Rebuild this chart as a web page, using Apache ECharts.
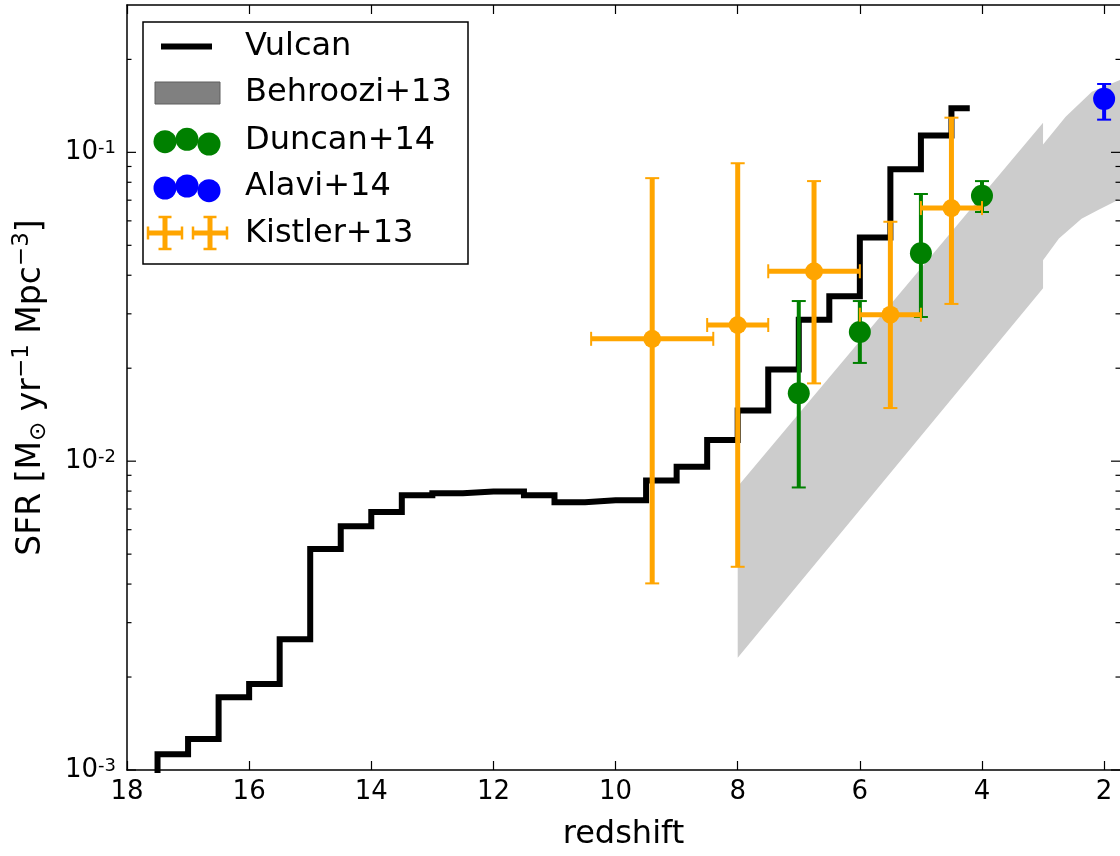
<!DOCTYPE html>
<html><head><meta charset="utf-8">
<script src="https://cdn.jsdelivr.net/npm/echarts@6/dist/echarts.min.js"></script>
<style>html,body{margin:0;padding:0;background:#fff}#c{width:1120px;height:856px}</style>
</head><body><div id="c"></div>
<script>
// ---- data ----
const xTicks = [18, 16, 14, 12, 10, 8, 6, 4, 2];
const yMajorTicks = [0.001, 0.01, 0.1];
const yMinorTicks = [0.002,0.003,0.004,0.005,0.006,0.007,0.008,0.009,0.02,0.03,0.04,0.05,0.06,0.07,0.08,0.09,0.2];

const vulcanZ = [17.5,17.5,17,16.5,16,15.5,15,14.5,14,13.5,13,12.5,12,11.5,11,10.5,10,9.5,9,8.5,8,7.5,7,6.5,6,5.5,5,4.5,4.2];
const vulcanSFR = [0.0009,0.001125,0.00126,0.00172,0.0019,0.00265,0.0052,0.00616,0.00684,0.00775,0.00787,0.00798,0.00798,0.00775,0.00736,0.00747,0.00747,0.00865,0.0096,0.0117,0.0146,0.0198,0.0287,0.0342,0.053,0.0882,0.1134,0.139,0.139];

const behrUpperZ = [8, 3, 3, 2.63, 2.2, 1.74];
const behrUpper  = [0.00828, 0.1248, 0.106, 0.1305, 0.157, 0.1716];
const behrLowerZ = [8, 3, 3, 2.74, 2.37, 2.09, 1.74];
const behrLower  = [0.00231, 0.0363, 0.0447, 0.0526, 0.061, 0.0652, 0.0706];

const duncanZ   = [7, 6, 5, 4];
const duncanSFR = [0.0166, 0.0262, 0.0471, 0.0723];
const duncanLo  = [0.00822, 0.0208, 0.0293, 0.0641];
const duncanHi  = [0.033, 0.033, 0.0733, 0.0807];

const alaviZ   = [2.0];
const alaviSFR = [0.149];
const alaviLo  = [0.1276];
const alaviHi  = [0.1665];

const kistlerZ   = [9.4, 8.0, 6.75, 5.5, 4.5];
const kistlerZLo = [8.4, 7.5, 6.0, 5.0, 4.0];
const kistlerZHi = [10.4, 8.5, 7.5, 6.0, 5.0];
const kistlerSFR = [0.0249, 0.0276, 0.0412, 0.0298, 0.066];
const kistlerLo  = [0.00402, 0.00455, 0.01786, 0.01486, 0.0323];
const kistlerHi  = [0.0825, 0.0922, 0.0807, 0.0596, 0.1295];

// ---- layout constants ----
const X_MIN = 1.74, X_MAX = 18, Y_MIN = 0.001, Y_MAX = 0.3;
const FONT = 'DejaVu Sans';

function errRender(o) {
  return function (params, api) {
    const z = api.value(0), v = api.value(1), zlo = api.value(2), zhi = api.value(3), vlo = api.value(4), vhi = api.value(5);
    const c = api.coord([z, v]);
    const t = api.coord([z, vhi]), b = api.coord([z, vlo]);
    const ch = [];
    const st = {stroke: o.color, lineWidth: o.lw};
    const cs = {stroke: o.color, lineWidth: o.capLw};
    ch.push({type: 'line', shape: {x1: c[0], y1: t[1], x2: c[0], y2: b[1]}, style: st});
    ch.push({type: 'line', shape: {x1: c[0] - o.cap, y1: t[1], x2: c[0] + o.cap, y2: t[1]}, style: cs});
    ch.push({type: 'line', shape: {x1: c[0] - o.cap, y1: b[1], x2: c[0] + o.cap, y2: b[1]}, style: cs});
    if (zlo !== zhi) {
      const l = api.coord([zhi, v]), r = api.coord([zlo, v]);
      ch.push({type: 'line', shape: {x1: l[0], y1: c[1], x2: r[0], y2: c[1]}, style: st});
      ch.push({type: 'line', shape: {x1: l[0], y1: c[1] - o.cap, x2: l[0], y2: c[1] + o.cap}, style: cs});
      ch.push({type: 'line', shape: {x1: r[0], y1: c[1] - o.cap, x2: r[0], y2: c[1] + o.cap}, style: cs});
    }
    ch.push({type: 'circle', shape: {cx: c[0], cy: c[1], r: o.r}, style: {fill: o.color}});
    return {type: 'group', children: ch};
  };
}

const chart = echarts.init(document.getElementById('c'), null, {renderer: 'canvas'});

const axisLineStyle = {show: true, lineStyle: {color: '#000', width: 1.5}};
const yTickData = yMajorTicks.map(v => [X_MAX, v, 9]).concat(yMinorTicks.map(v => [X_MAX, v, 4.5]));

const legendGraphics = [
  {type: 'rect', shape: {x: 143, y: 22, width: 325, height: 242}, style: {fill: '#fff', stroke: '#000', lineWidth: 1.5}},
  {type: 'line', shape: {x1: 161, y1: 46.5, x2: 212, y2: 46.5}, style: {stroke: '#000', lineWidth: 6}},
  {type: 'rect', shape: {x: 155, y: 82, width: 65, height: 22}, style: {fill: '#808080', stroke: '#5e5e5e', lineWidth: 1}},
  {type: 'circle', shape: {cx: 165, cy: 141.7, r: 11.5}, style: {fill: '#008000'}},
  {type: 'circle', shape: {cx: 187, cy: 139.3, r: 11.5}, style: {fill: '#008000'}},
  {type: 'circle', shape: {cx: 209, cy: 144, r: 11.5}, style: {fill: '#008000'}},
  {type: 'circle', shape: {cx: 165, cy: 188, r: 11.5}, style: {fill: '#0000ff'}},
  {type: 'circle', shape: {cx: 187, cy: 186, r: 11.5}, style: {fill: '#0000ff'}},
  {type: 'circle', shape: {cx: 209, cy: 190.7, r: 11.5}, style: {fill: '#0000ff'}}
];
[165, 210].forEach(cx => {
  const cy = 233;
  legendGraphics.push(
    {type: 'line', shape: {x1: cx - 17, y1: cy, x2: cx + 17, y2: cy}, style: {stroke: '#ffa500', lineWidth: 5}},
    {type: 'line', shape: {x1: cx, y1: cy - 16, x2: cx, y2: cy + 16}, style: {stroke: '#ffa500', lineWidth: 5}},
    {type: 'line', shape: {x1: cx - 17, y1: cy - 6.5, x2: cx - 17, y2: cy + 6.5}, style: {stroke: '#ffa500', lineWidth: 2.5}},
    {type: 'line', shape: {x1: cx + 17, y1: cy - 6.5, x2: cx + 17, y2: cy + 6.5}, style: {stroke: '#ffa500', lineWidth: 2.5}},
    {type: 'line', shape: {x1: cx - 6.5, y1: cy - 16, x2: cx + 6.5, y2: cy - 16}, style: {stroke: '#ffa500', lineWidth: 2.5}},
    {type: 'line', shape: {x1: cx - 6.5, y1: cy + 16, x2: cx + 6.5, y2: cy + 16}, style: {stroke: '#ffa500', lineWidth: 2.5}}
  );
});
[['Vulcan', 46.5], ['Behroozi+13', 93], ['Duncan+14', 140.5], ['Alavi+14', 187], ['Kistler+13', 233.5]].forEach(([t, y]) => {
  legendGraphics.push({type: 'text', x: 245, y: y, style: {text: t, fontSize: 32, fontFamily: FONT, fill: '#000', verticalAlign: 'middle', textVerticalAlign: 'middle'}});
});
legendGraphics.forEach(g => { g.z = 100; });

const option = {
  animation: false,
  backgroundColor: '#fff',
  textStyle: {fontFamily: FONT},
  grid: {left: 127, top: 5, width: 994, height: 771, containLabel: false},
  xAxis: [
    {type: 'value', inverse: true, min: X_MIN, max: X_MAX, position: 'bottom',
     axisLine: axisLineStyle,
     axisTick: {show: true, inside: true, length: 9, customValues: xTicks, lineStyle: {color: '#000', width: 1.2}},
     axisLabel: {show: true, customValues: xTicks, margin: 9, fontSize: 26, color: '#000', fontFamily: FONT},
     splitLine: {show: false},
     name: 'redshift', nameLocation: 'middle', nameGap: 49,
     nameTextStyle: {fontSize: 32, color: '#000', fontFamily: FONT}},
    {type: 'value', inverse: true, min: X_MIN, max: X_MAX, position: 'top',
     axisLine: axisLineStyle,
     axisTick: {show: true, inside: true, length: 9, customValues: xTicks, lineStyle: {color: '#000', width: 1.2}},
     axisLabel: {show: false}, splitLine: {show: false}}
  ],
  yAxis: [
    {type: 'log', logBase: 10, min: Y_MIN, max: Y_MAX, position: 'left',
     axisLine: axisLineStyle,
     axisTick: {show: false}, minorTick: {show: false}, splitLine: {show: false},
     axisLabel: {
       margin: 11, color: '#000',
       formatter: function (v) {
         const l = Math.log10(v); const e = Math.round(l);
         if (Math.abs(l - e) > 1e-6) return '';
         return '{b|10}{s|' + (e < 0 ? '-' + (-e) : e) + '}';
       },
       rich: {
         b: {fontSize: 26, fontFamily: FONT, color: '#000', lineHeight: 26},
         s: {fontSize: 18, fontFamily: FONT, color: '#000', lineHeight: 18, verticalAlign: 'top'}
       }
     },
     name: '{n|SFR [M}{sub|\u2299}{n| yr}{sup|\u22121}{n| Mpc}{sup|\u22123}{n|]}',
     nameLocation: 'middle', nameRotate: 90, nameGap: 76,
     nameTextStyle: {
       color: '#000',
       rich: {
         n: {fontSize: 33, fontFamily: FONT, color: '#000', lineHeight: 40},
         sup: {fontSize: 23, fontFamily: FONT, color: '#000', lineHeight: 23, verticalAlign: 'top'},
         sub: {fontSize: 23, fontFamily: FONT, color: '#000', lineHeight: 23, verticalAlign: 'bottom'}
       }
     }}
  ],
  series: [
    {type: 'custom', name: 'Behroozi+13', coordinateSystem: 'cartesian2d', clip: true, z: 1, silent: true,
     data: [[behrUpperZ[0], behrUpper[0]]],
     renderItem: function (params, api) {
       const up = behrUpperZ.map((z, i) => api.coord([z, behrUpper[i]]));
       const lo = behrLowerZ.map((z, i) => api.coord([z, behrLower[i]])).reverse();
       return {type: 'polygon', shape: {points: up.concat(lo)}, style: {fill: '#cccccc'}};
     }},
    {type: 'line', name: 'Vulcan', step: 'end', z: 2, showSymbol: false, symbol: 'none', clip: true, silent: true,
     data: vulcanZ.map((z, i) => [z, vulcanSFR[i]]),
     lineStyle: {color: '#000', width: 6, join: 'miter', cap: 'butt'}},
    {type: 'custom', name: 'Duncan+14', coordinateSystem: 'cartesian2d', z: 3, silent: true,
     data: duncanZ.map((z, i) => [z, duncanSFR[i], z, z, duncanLo[i], duncanHi[i]]),
     renderItem: errRender({color: '#008000', lw: 4, capLw: 2, cap: 7, r: 11})},
    {type: 'custom', name: 'Alavi+14', coordinateSystem: 'cartesian2d', z: 3, silent: true,
     data: alaviZ.map((z, i) => [z, alaviSFR[i], z, z, alaviLo[i], alaviHi[i]]),
     renderItem: errRender({color: '#0000ff', lw: 4, capLw: 2, cap: 7, r: 11})},
    {type: 'custom', name: 'Kistler+13', coordinateSystem: 'cartesian2d', z: 4, silent: true,
     data: kistlerZ.map((z, i) => [z, kistlerSFR[i], kistlerZLo[i], kistlerZHi[i], kistlerLo[i], kistlerHi[i]]),
     renderItem: errRender({color: '#ffa500', lw: 5, capLw: 2, cap: 7, r: 9})},
    {type: 'custom', name: 'yticks', coordinateSystem: 'cartesian2d', z: 5, silent: true,
     data: yTickData,
     renderItem: function (params, api) {
       const v = api.value(1), len = api.value(2);
       const L = api.coord([X_MAX, v]), R = api.coord([X_MIN, v]);
       const st = {stroke: '#000', lineWidth: 1.2};
       return {type: 'group', children: [
         {type: 'line', shape: {x1: L[0], y1: L[1], x2: L[0] + len, y2: L[1]}, style: st},
         {type: 'line', shape: {x1: R[0] - len, y1: R[1], x2: R[0], y2: R[1]}, style: st}
       ]};
     }}
  ],
  graphic: legendGraphics
};
chart.setOption(option);
</script>
</body></html>
